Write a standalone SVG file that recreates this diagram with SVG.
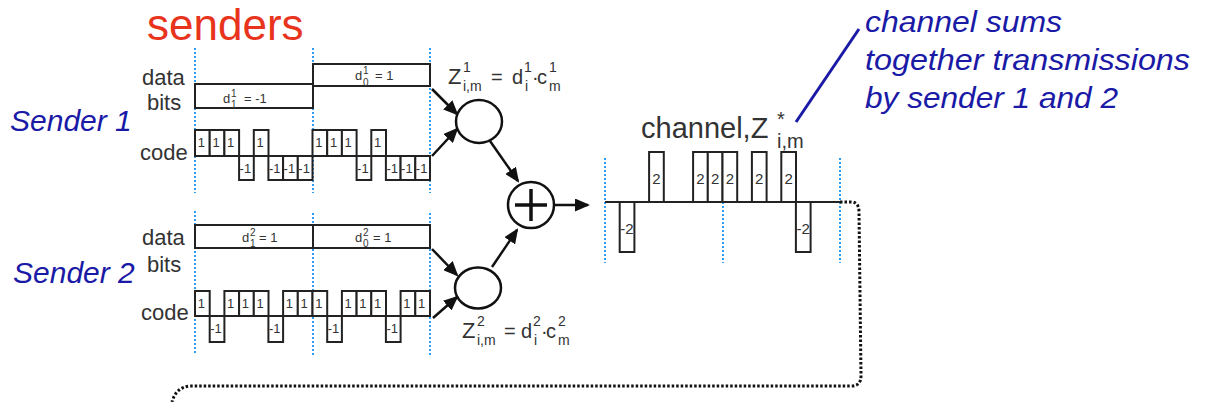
<svg xmlns="http://www.w3.org/2000/svg" width="1205" height="402" viewBox="0 0 1205 402">
<defs>
<style>
.t{font-family:"Liberation Sans",Arial,sans-serif;fill:#333}
.lbl{font-size:22px}
.eq{font-size:20px}
.zz{font-size:22px}
.sup{font-size:14px}
.db{font-size:13px}
.dbs{font-size:10px}
.chip{fill:#fff;stroke:#222;stroke-width:2}
.cl{font-family:"Liberation Sans",Arial,sans-serif;fill:#333;font-size:13px;text-anchor:middle}
.cl2{font-family:"Liberation Sans",Arial,sans-serif;fill:#333;font-size:15px;text-anchor:middle}
.box{fill:#fff;stroke:#222;stroke-width:2}
.vd{stroke:#2a9df4;stroke-width:2;stroke-dasharray:2 2;fill:none}
.blue{font-family:"Liberation Sans",Arial,sans-serif;fill:#1a1aa6;font-style:italic}
.arr{stroke:#111;stroke-width:2.5;fill:none;marker-end:url(#ah)}
.op{fill:#fff;stroke:#111;stroke-width:2.5}
</style>
<marker id="ah" markerUnits="userSpaceOnUse" markerWidth="15" markerHeight="13" refX="13" refY="6.5" orient="auto">
<path d="M0,0 L15,6.5 L0,13 Z" fill="#111"/>
</marker>
</defs>
<rect width="1205" height="402" fill="#fff"/>

<g id="title">
<text x="147" y="40" font-family="Liberation Sans, Arial, sans-serif" font-size="44" fill="#e8341c">senders</text>
</g>

<g id="sender1">
<text class="blue" x="10" y="131" font-size="30">Sender 1</text>
<text class="t lbl" x="142" y="85">data</text>
<text class="t lbl" x="147" y="110">bits</text>
<text class="t lbl" x="140" y="160">code</text>
<line class="vd" x1="195" y1="48" x2="195" y2="193"/>
<line class="vd" x1="313" y1="48" x2="313" y2="193"/>
<line class="vd" x1="430" y1="48" x2="430" y2="193"/>
<rect class="box" x="195" y="84" width="118" height="24"/>
<rect class="box" x="313" y="64" width="117" height="22"/>
<text class="t db" x="223" y="103">d</text><text class="t dbs" x="231" y="97">1</text><text class="t dbs" x="231" y="108">1</text><text class="t db" x="244" y="103">= -1</text>
<text class="t db" x="355" y="80">d</text><text class="t dbs" x="363" y="74">1</text><text class="t dbs" x="363" y="86">0</text><text class="t db" x="375" y="80">= 1</text>
<g id="code1">
<rect class="chip" x="195" y="130" width="14.7" height="26"/><text class="cl" x="201.3" y="147">1</text>
<rect class="chip" x="209.7" y="130" width="14.7" height="26"/><text class="cl" x="216" y="147">1</text>
<rect class="chip" x="224.4" y="130" width="14.7" height="26"/><text class="cl" x="230.7" y="147">1</text>
<rect class="chip" x="239.1" y="156" width="14.7" height="24"/><text class="cl" x="245.4" y="173">-1</text>
<rect class="chip" x="253.8" y="130" width="14.7" height="26"/><text class="cl" x="260.1" y="147">1</text>
<rect class="chip" x="268.4" y="156" width="14.7" height="24"/><text class="cl" x="274.7" y="173">-1</text>
<rect class="chip" x="283.1" y="156" width="14.7" height="24"/><text class="cl" x="289.4" y="173">-1</text>
<rect class="chip" x="297.8" y="156" width="14.7" height="24"/><text class="cl" x="304.1" y="173">-1</text>
<rect class="chip" x="312.5" y="130" width="14.7" height="26"/><text class="cl" x="318.8" y="147">1</text>
<rect class="chip" x="327.2" y="130" width="14.7" height="26"/><text class="cl" x="333.5" y="147">1</text>
<rect class="chip" x="341.9" y="130" width="14.7" height="26"/><text class="cl" x="348.2" y="147">1</text>
<rect class="chip" x="356.6" y="156" width="14.7" height="24"/><text class="cl" x="362.9" y="173">-1</text>
<rect class="chip" x="371.3" y="130" width="14.7" height="26"/><text class="cl" x="377.6" y="147">1</text>
<rect class="chip" x="385.9" y="156" width="14.7" height="24"/><text class="cl" x="392.2" y="173">-1</text>
<rect class="chip" x="400.6" y="156" width="14.7" height="24"/><text class="cl" x="406.9" y="173">-1</text>
<rect class="chip" x="415.3" y="156" width="14.7" height="24"/><text class="cl" x="421.6" y="173">-1</text>
</g>
</g>

<g id="sender2">
<text class="blue" x="13" y="283" font-size="30">Sender 2</text>
<text class="t lbl" x="142" y="245">data</text>
<text class="t lbl" x="147" y="272">bits</text>
<text class="t lbl" x="141" y="320">code</text>
<line class="vd" x1="195" y1="211" x2="195" y2="355"/>
<line class="vd" x1="313" y1="213" x2="313" y2="357"/>
<line class="vd" x1="430" y1="213" x2="430" y2="355"/>
<rect class="box" x="195" y="225" width="118" height="23"/>
<rect class="box" x="313" y="225" width="117" height="23"/>
<text class="t db" x="242" y="242">d</text><text class="t dbs" x="250" y="236">2</text><text class="t dbs" x="250" y="247">1</text><text class="t db" x="259" y="242">= 1</text>
<text class="t db" x="355" y="242">d</text><text class="t dbs" x="363" y="236">2</text><text class="t dbs" x="363" y="247">0</text><text class="t db" x="373" y="242">= 1</text>
<g id="code2">
<rect class="chip" x="195" y="291" width="14.7" height="25"/><text class="cl" x="201.3" y="308">1</text>
<rect class="chip" x="209.7" y="316" width="14.7" height="26"/><text class="cl" x="216" y="333">-1</text>
<rect class="chip" x="224.4" y="291" width="14.7" height="25"/><text class="cl" x="230.7" y="308">1</text>
<rect class="chip" x="239.1" y="291" width="14.7" height="25"/><text class="cl" x="245.4" y="308">1</text>
<rect class="chip" x="253.8" y="291" width="14.7" height="25"/><text class="cl" x="260.1" y="308">1</text>
<rect class="chip" x="268.4" y="316" width="14.7" height="26"/><text class="cl" x="274.7" y="333">-1</text>
<rect class="chip" x="283.1" y="291" width="14.7" height="25"/><text class="cl" x="289.4" y="308">1</text>
<rect class="chip" x="297.8" y="291" width="14.7" height="25"/><text class="cl" x="304.1" y="308">1</text>
<rect class="chip" x="312.5" y="291" width="14.7" height="25"/><text class="cl" x="318.8" y="308">1</text>
<rect class="chip" x="327.2" y="316" width="14.7" height="26"/><text class="cl" x="333.5" y="333">-1</text>
<rect class="chip" x="341.9" y="291" width="14.7" height="25"/><text class="cl" x="348.2" y="308">1</text>
<rect class="chip" x="356.6" y="291" width="14.7" height="25"/><text class="cl" x="362.9" y="308">1</text>
<rect class="chip" x="371.3" y="291" width="14.7" height="25"/><text class="cl" x="377.6" y="308">1</text>
<rect class="chip" x="385.9" y="316" width="14.7" height="26"/><text class="cl" x="392.2" y="333">-1</text>
<rect class="chip" x="400.6" y="291" width="14.7" height="25"/><text class="cl" x="406.9" y="308">1</text>
<rect class="chip" x="415.3" y="291" width="14.7" height="25"/><text class="cl" x="421.6" y="308">1</text>
</g>
</g>

<g id="mult1">
<ellipse class="op" cx="479" cy="121.5" rx="23" ry="21.5"/>
<text class="t zz" x="448" y="84">Z</text><text class="t sup" x="463" y="72">1</text><text class="t sup" x="463" y="91">i,m</text>
<text class="t eq" x="491" y="84">=</text>
<text class="t eq" x="512" y="84">d</text><text class="t sup" x="524" y="72">1</text><text class="t sup" x="525" y="91">i</text>
<text class="t eq" x="532" y="84">·</text>
<text class="t eq" x="537" y="84">c</text><text class="t sup" x="549" y="72">1</text><text class="t sup" x="549" y="91">m</text>
</g>

<g id="mult2">
<ellipse class="op" cx="478" cy="288" rx="23" ry="20.5"/>
<text class="t zz" x="462" y="338">Z</text><text class="t sup" x="477" y="326">2</text><text class="t sup" x="477" y="345">i,m</text>
<text class="t eq" x="504" y="338">=</text>
<text class="t eq" x="521" y="338">d</text><text class="t sup" x="533" y="326">2</text><text class="t sup" x="534" y="345">i</text>
<text class="t eq" x="541" y="338">·</text>
<text class="t eq" x="546" y="338">c</text><text class="t sup" x="558" y="326">2</text><text class="t sup" x="558" y="345">m</text>
</g>

<g id="sum">
<circle class="op" cx="531" cy="205" r="23"/>
<line x1="515" y1="205" x2="547" y2="205" stroke="#111" stroke-width="3.5"/>
<line x1="531" y1="189" x2="531" y2="221" stroke="#111" stroke-width="3.5"/>
</g>

<g id="channel">
<text class="t" x="641" y="138" font-size="29">channel,Z</text>
<text class="t" x="777" y="126" font-size="20">*</text>
<text class="t" x="777" y="148" font-size="20">i,m</text>
<line class="vd" x1="605" y1="158" x2="605" y2="263"/>
<line class="vd" x1="723" y1="158" x2="723" y2="263"/>
<line class="vd" x1="840" y1="158" x2="840" y2="263"/>
<line x1="605" y1="202" x2="840" y2="202" stroke="#222" stroke-width="2"/>
<rect class="chip" x="619.7" y="202" width="14.7" height="50"/><text class="cl2" x="627" y="234">-2</text>
<rect class="chip" x="649.1" y="152" width="14.7" height="50"/><text class="cl2" x="656.4" y="184">2</text>
<rect class="chip" x="693.1" y="152" width="14.7" height="50"/><text class="cl2" x="700.4" y="184">2</text>
<rect class="chip" x="707.8" y="152" width="14.7" height="50"/><text class="cl2" x="715.1" y="184">2</text>
<rect class="chip" x="722.5" y="152" width="14.7" height="50"/><text class="cl2" x="729.8" y="184">2</text>
<rect class="chip" x="751.9" y="152" width="14.7" height="50"/><text class="cl2" x="759.2" y="184">2</text>
<rect class="chip" x="781.3" y="152" width="14.7" height="50"/><text class="cl2" x="788.6" y="184">2</text>
<rect class="chip" x="795.9" y="202" width="14.7" height="50"/><text class="cl2" x="803.2" y="234">-2</text>
</g>

<g id="note">
<text class="blue" x="865" y="32" font-size="30" textLength="197" lengthAdjust="spacingAndGlyphs">channel sums</text>
<text class="blue" x="865" y="70" font-size="30" textLength="325" lengthAdjust="spacingAndGlyphs">together transmissions</text>
<text class="blue" x="865" y="108" font-size="30" textLength="253" lengthAdjust="spacingAndGlyphs">by sender 1 and 2</text>
</g>

<g id="connectors">
<line class="arr" x1="432" y1="89" x2="457" y2="114"/>
<line class="arr" x1="432" y1="156" x2="457" y2="129"/>
<line class="arr" x1="490" y1="141" x2="518" y2="181"/>
<line class="arr" x1="432" y1="249" x2="457" y2="275"/>
<line class="arr" x1="433" y1="318" x2="457" y2="297"/>
<line class="arr" x1="492" y1="267" x2="517" y2="230"/>
<line class="arr" x1="554" y1="205" x2="588" y2="205"/>
<line x1="859" y1="29" x2="796" y2="122" stroke="#1a1aa6" stroke-width="3"/>
<path d="M840,202 L851,202 Q859,202 859,212 L861,376 Q861,386 851,386 L190,386 Q176,387 172,402" fill="none" stroke="#111" stroke-width="3" stroke-dasharray="2.5 2"/>
</g>
</svg>
